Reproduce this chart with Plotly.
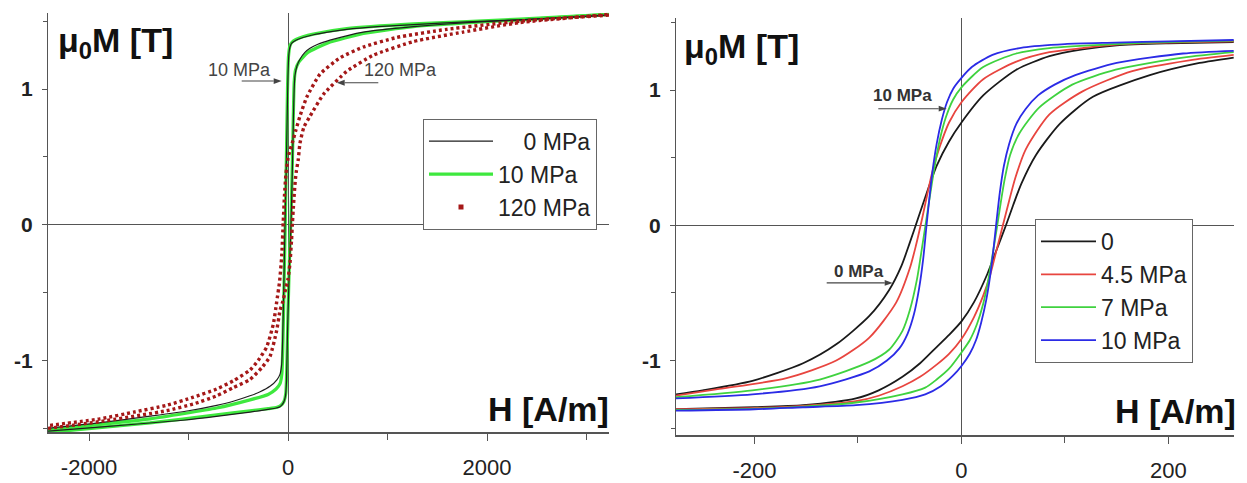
import plotly.graph_objects as go

# ---------------- Left panel data (H in A/m, mu0M in T) ----------------
# 0 MPa
L0_down_H = [3226, 2700, 2330, 1800, 1260, 900, 590, 400, 255, 150, 80, 40, 20, 8, 0, -8, -18, -30, -42, -54, -64, -80, -110, -181, -280, -382, -550, -717, -1000, -1387, -1900, -2412]
L0_down_M = [1.545, 1.525, 1.51, 1.495, 1.475, 1.46, 1.44, 1.42, 1.40, 1.38, 1.36, 1.34, 1.31, 1.25, 1.10, 0.80, 0.40, 0.0, -0.45, -0.85, -1.03, -1.10, -1.14, -1.19, -1.23, -1.26, -1.30, -1.33, -1.37, -1.41, -1.46, -1.50]
L0_up_H = [-2412, -1900, -1055, -700, -382, -200, -120, -80, -45, -25, -15, -5, 10, 30, 45, 55, 62, 70, 90, 120, 170, 221, 300, 422, 757, 1260, 1800, 2330, 3226]
L0_up_M = [-1.52, -1.49, -1.44, -1.41, -1.38, -1.36, -1.35, -1.34, -1.31, -1.26, -1.15, -0.80, -0.40, 0.0, 0.45, 0.80, 1.00, 1.10, 1.17, 1.22, 1.27, 1.30, 1.33, 1.36, 1.42, 1.46, 1.49, 1.51, 1.545]
# 10 MPa
L10_down_H = [3226, 2330, 1260, 590, 255, 150, 80, 40, 20, 5, -5, -15, -28, -40, -52, -62, -80, -120, -200, -382, -717, -1387, -2412]
L10_down_M = [1.55, 1.515, 1.48, 1.445, 1.405, 1.385, 1.365, 1.345, 1.32, 1.24, 1.00, 0.55, 0.0, -0.45, -0.90, -1.10, -1.17, -1.21, -1.25, -1.29, -1.35, -1.43, -1.51]
L10_up_H = [-2412, -1387, -717, -382, -200, -110, -70, -40, -22, -12, 0, 15, 32, 45, 55, 62, 75, 110, 200, 400, 757, 1260, 2330, 3226]
L10_up_M = [-1.53, -1.46, -1.40, -1.37, -1.355, -1.345, -1.33, -1.30, -1.24, -1.05, -0.65, -0.25, 0.1, 0.5, 0.85, 1.05, 1.14, 1.20, 1.27, 1.34, 1.41, 1.46, 1.51, 1.55]
# 120 MPa
L120_down_H = [3226, 2330, 1595, 1092, 757, 523, 322, 188, 120, 80, 50, 20, 0, -20, -35, -48, -63, -85, -114, -147, -214, -300, -382, -550, -717, -950, -1220, -1550, -1890, -2412]
L120_down_M = [1.545, 1.50, 1.44, 1.38, 1.31, 1.23, 1.11, 0.94, 0.80, 0.70, 0.62, 0.55, 0.49, 0.38, 0.22, 0.02, -0.23, -0.42, -0.57, -0.73, -0.90, -1.00, -1.07, -1.15, -1.21, -1.27, -1.33, -1.38, -1.43, -1.48]
L120_up_H = [-2412, -1890, -1220, -950, -717, -550, -382, -260, -181, -114, -80, -50, -20, 0, 20, 35, 45, 55, 63, 75, 85, 103, 120, 160, 221, 355, 590, 858, 1260, 1760, 2330, 3226]
L120_up_M = [-1.50, -1.45, -1.37, -1.32, -1.26, -1.20, -1.14, -1.05, -0.97, -0.78, -0.63, -0.56, -0.46, -0.40, -0.28, -0.12, 0.02, 0.14, 0.23, 0.34, 0.40, 0.48, 0.60, 0.72, 0.80, 0.96, 1.13, 1.25, 1.35, 1.42, 1.49, 1.55]

# ---------------- Right panel data ----------------
R0_down_H = [263, 200, 150, 117, 85, 53, 21, 0, -12, -24, -34, -42, -50, -58, -70, -89, -121, -153, -202, -250, -276]
R0_down_M = [1.355, 1.345, 1.33, 1.30, 1.25, 1.15, 0.96, 0.76, 0.62, 0.44, 0.23, 0.05, -0.13, -0.30, -0.48, -0.67, -0.88, -1.02, -1.15, -1.22, -1.25]
R0_up_H = [-276, -200, -153, -102, -80, -57, -40, -24, -12, 0, 12, 25, 34, 43, 50, 58, 72, 95, 127, 182, 230, 263]
R0_up_M = [-1.36, -1.345, -1.33, -1.28, -1.22, -1.12, -1.02, -0.90, -0.81, -0.71, -0.57, -0.36, -0.18, 0.0, 0.15, 0.31, 0.52, 0.75, 0.95, 1.11, 1.20, 1.24]

R45_down_H = [263, 200, 149, 117, 85, 53, 21, 0, -12, -21, -28, -33, -38, -44, -50, -63, -89, -121, -169, -234, -276]
R45_down_M = [1.36, 1.35, 1.335, 1.31, 1.28, 1.21, 1.08, 0.91, 0.76, 0.58, 0.40, 0.23, 0.05, -0.15, -0.32, -0.57, -0.83, -1.00, -1.13, -1.21, -1.26]
R45_up_H = [-276, -200, -153, -102, -80, -57, -40, -24, -12, 0, 12, 21, 28, 34, 40, 46, 52, 62, 85, 117, 165, 220, 263]
R45_up_M = [-1.36, -1.35, -1.335, -1.30, -1.26, -1.19, -1.12, -1.03, -0.95, -0.84, -0.68, -0.52, -0.36, -0.18, 0.0, 0.18, 0.35, 0.56, 0.82, 0.99, 1.14, 1.22, 1.26]

R7_down_H = [263, 200, 149, 85, 53, 21, 0, -8, -15, -21, -26, -30, -34, -38, -43, -50, -57, -70, -89, -137, -202, -276]
R7_down_M = [1.365, 1.355, 1.34, 1.31, 1.27, 1.17, 1.02, 0.93, 0.80, 0.63, 0.43, 0.24, 0.04, -0.16, -0.40, -0.63, -0.78, -0.92, -1.01, -1.14, -1.22, -1.27]
R7_up_H = [-276, -200, -153, -102, -57, -35, -24, -12, 0, 8, 15, 21, 26, 30, 34, 38, 42, 47, 56, 75, 107, 149, 214, 263]
R7_up_M = [-1.365, -1.355, -1.34, -1.31, -1.25, -1.20, -1.14, -1.06, -0.94, -0.85, -0.73, -0.58, -0.40, -0.22, -0.03, 0.17, 0.35, 0.52, 0.68, 0.87, 1.04, 1.15, 1.24, 1.28]

R10_down_H = [263, 200, 149, 100, 60, 30, 10, 0, -8, -14, -19, -24, -28, -31, -34, -37, -41, -46, -52, -60, -72, -89, -137, -202, -276]
R10_down_M = [1.37, 1.36, 1.35, 1.34, 1.315, 1.26, 1.17, 1.09, 1.01, 0.91, 0.78, 0.60, 0.40, 0.20, -0.02, -0.25, -0.47, -0.66, -0.80, -0.91, -1.00, -1.08, -1.19, -1.25, -1.28]
R10_up_H = [-276, -200, -153, -102, -57, -35, -20, -8, 0, 8, 14, 19, 24, 28, 31, 34, 37, 41, 46, 53, 62, 74, 90, 110, 150, 214, 263]
R10_up_M = [-1.37, -1.36, -1.345, -1.33, -1.29, -1.25, -1.19, -1.11, -1.04, -0.95, -0.85, -0.72, -0.55, -0.36, -0.17, 0.04, 0.24, 0.44, 0.60, 0.75, 0.86, 0.96, 1.04, 1.11, 1.20, 1.27, 1.29]

left_names = ["\u2007\u20070 MPa", "10 MPa", "120 MPa"]
right_names = ["0", "4.5 MPa", "7 MPa", "10 MPa"]
x_ticks_left = [-2000, 0, 2000]
x_ticktext_left = ["-2000", "0", "2000"]
x_minor_left = [-1000, 1000, 3000]
x_ticks_right = [-200, 0, 200]
x_ticktext_right = ["-200", "0", "200"]
x_minor_right = [-100, 100]
y_ticks = [-1, 0, 1]
y_ticktext = ["-1", "0", "1"]
y_minor = [-1.5, -0.5, 0.5, 1.5]

FONT = "Liberation Sans, Arial, sans-serif"
W, H = 1247, 483


def loop(hd, md, hu, mu):
    return hd + [None] + hu, md + [None] + mu


fig = go.Figure()

# ---- left traces ----
x, y = loop(L10_down_H, L10_down_M, L10_up_H, L10_up_M)
fig.add_trace(go.Scatter(x=x, y=y, mode="lines", name=left_names[1], legendrank=2,
                         line=dict(color="#3ee83e", width=3.2, shape="spline", smoothing=0.5),
                         xaxis="x", yaxis="y", legend="legend"))
x, y = loop(L0_down_H, L0_down_M, L0_up_H, L0_up_M)
fig.add_trace(go.Scatter(x=x, y=y, mode="lines", name=left_names[0], legendrank=1,
                         line=dict(color="#1e1e1e", width=1.2, shape="spline", smoothing=0.5),
                         xaxis="x", yaxis="y", legend="legend"))
x, y = loop(L120_down_H, L120_down_M, L120_up_H, L120_up_M)
fig.add_trace(go.Scatter(x=x, y=y, mode="lines", name=left_names[2], showlegend=False,
                         line=dict(color="#a51818", width=3.4, dash="3px,3px", shape="spline", smoothing=0.5),
                         xaxis="x", yaxis="y"))
fig.add_trace(go.Scatter(x=[None], y=[None], mode="markers", name=left_names[2], legendrank=3,
                         marker=dict(symbol="square", size=5, color="#a51818"),
                         xaxis="x", yaxis="y", legend="legend"))

# ---- right traces ----
right_sets = [
    (R0_down_H, R0_down_M, R0_up_H, R0_up_M, "#1a1a1a"),
    (R45_down_H, R45_down_M, R45_up_H, R45_up_M, "#e8453f"),
    (R7_down_H, R7_down_M, R7_up_H, R7_up_M, "#3fd23f"),
    (R10_down_H, R10_down_M, R10_up_H, R10_up_M, "#2b2be6"),
]
for (hd, md, hu, mu, col), nm in zip(right_sets, right_names):
    x, y = loop(hd, md, hu, mu)
    fig.add_trace(go.Scatter(x=x, y=y, mode="lines", name=nm,
                             line=dict(color=col, width=1.8, shape="spline", smoothing=0.7),
                             xaxis="x2", yaxis="y2", legend="legend2"))

axcol = "#555"
common_x = dict(showgrid=False, showline=True, linecolor=axcol, linewidth=1.6, mirror=False,
                ticks="outside", ticklen=7, tickwidth=1.4, tickcolor=axcol,
                zeroline=True, zerolinecolor=axcol, zerolinewidth=1.2,
                tickfont=dict(family=FONT, size=22, color="#222"), ticklabelstandoff=8)
common_y = dict(showgrid=False, showline=True, linecolor=axcol, linewidth=1.4, mirror=False,
                ticks="outside", ticklen=5, tickwidth=1.4, tickcolor=axcol,
                zeroline=True, zerolinecolor=axcol, zerolinewidth=1.2,
                tickvals=y_ticks, ticktext=y_ticktext,
                minor=dict(tickvals=y_minor, ticks="outside", ticklen=4, tickcolor=axcol),
                tickfont=dict(family=FONT, size=21, color="#222", weight="bold"), ticklabelstandoff=5)

fig.update_layout(
    width=W, height=H, margin=dict(l=0, r=0, t=0, b=0),
    paper_bgcolor="white", plot_bgcolor="white",
    xaxis=dict(domain=[48 / W, 609 / W], range=[-2412, 3226], anchor="y",
               tickvals=x_ticks_left, ticktext=x_ticktext_left,
               minor=dict(tickvals=x_minor_left, ticks="outside", ticklen=6, tickcolor=axcol),
               **common_x),
    yaxis=dict(domain=[1 - 444 / H, 1 - 13 / H], range=[-1.527, 1.563], anchor="x", **common_y),
    xaxis2=dict(domain=[676 / W, 1234 / W], range=[-275.8, 263.3], anchor="y2",
                tickvals=x_ticks_right, ticktext=x_ticktext_right,
                minor=dict(tickvals=x_minor_right, ticks="outside", ticklen=6, tickcolor=axcol),
                **common_x),
    yaxis2=dict(domain=[1 - 447 / H, 1 - 18 / H], range=[-1.55, 1.536], anchor="x2", **common_y),
    legend=dict(x=423 / W, y=1 - 122 / H, xanchor="left", yanchor="top",
                bgcolor="white", bordercolor="#666", borderwidth=1, itemwidth=64,
                font=dict(family=FONT, size=23, color="#222"), tracegroupgap=0),
    legend2=dict(x=1035 / W, y=1 - 225 / H, xanchor="left", yanchor="top",
                 bgcolor="white", bordercolor="#666", borderwidth=1, itemwidth=55,
                 font=dict(family=FONT, size=23, color="#222"), tracegroupgap=0),
    showlegend=True,
)

title_font = dict(family=FONT, size=34, color="#111", weight="bold")
ann = [
    dict(text="\u03bc<sub>0</sub>M [T]", x=56 / W, y=1 - 44 / H, xref="paper", yref="paper",
         xanchor="left", yanchor="middle", showarrow=False, font=title_font),
    dict(text="\u03bc<sub>0</sub>M [T]", x=682 / W, y=1 - 50 / H, xref="paper", yref="paper",
         xanchor="left", yanchor="middle", showarrow=False, font=title_font),
    dict(text="H [A/m]", x=611 / W, y=1 - 420 / H, xref="paper", yref="paper",
         xanchor="right", yanchor="middle", showarrow=False, font=title_font),
    dict(text="H [A/m]", x=1238 / W, y=1 - 422 / H, xref="paper", yref="paper",
         xanchor="right", yanchor="middle", showarrow=False, font=title_font),
    # in-plot labels
    dict(text="10 MPa", x=-492, y=1.143, xref="x", yref="y", showarrow=False,
         font=dict(family=FONT, size=18, color="#444")),
    dict(text="120 MPa", x=1126, y=1.143, xref="x", yref="y", showarrow=False,
         font=dict(family=FONT, size=18, color="#444")),
    dict(text="10 MPa", x=-56.5, y=0.96, xref="x2", yref="y2", showarrow=False,
         font=dict(family=FONT, size=17, color="#333", weight="bold")),
    dict(text="0 MPa", x=-99, y=-0.34, xref="x2", yref="y2", showarrow=False,
         font=dict(family=FONT, size=17, color="#333", weight="bold")),
]
fig.update_layout(annotations=ann)

# pointer arrows (tail px, head px) drawn as shapes in paper coordinates
arrow_px = [
    ((241.7, 83.3), (281.7, 83.3)),
    ((378.3, 85.0), (336.7, 85.0)),
    ((878.3, 111.7), (946.7, 111.7)),
    ((826.7, 290.7), (892.7, 290.7)),
]
shapes = []
for (tx, ty), (hx, hy) in arrow_px:
    s = 1 if hx > tx else -1
    bx = hx - s * 8
    shapes.append(dict(type="line", xref="paper", yref="paper",
                       x0=tx / W, y0=1 - ty / H, x1=bx / W, y1=1 - hy / H,
                       line=dict(color="#444", width=1.1)))
    shapes.append(dict(type="path", xref="paper", yref="paper",
                       path=f"M {hx / W},{1 - hy / H} L {bx / W},{1 - (hy - 3) / H} L {bx / W},{1 - (hy + 3) / H} Z",
                       fillcolor="#444", line=dict(width=0)))
fig.update_layout(shapes=shapes)

fig.write_html("out.html", config={"displayModeBar": False},
               post_script="document.body.style.margin='0px';document.body.style.overflow='hidden';")
